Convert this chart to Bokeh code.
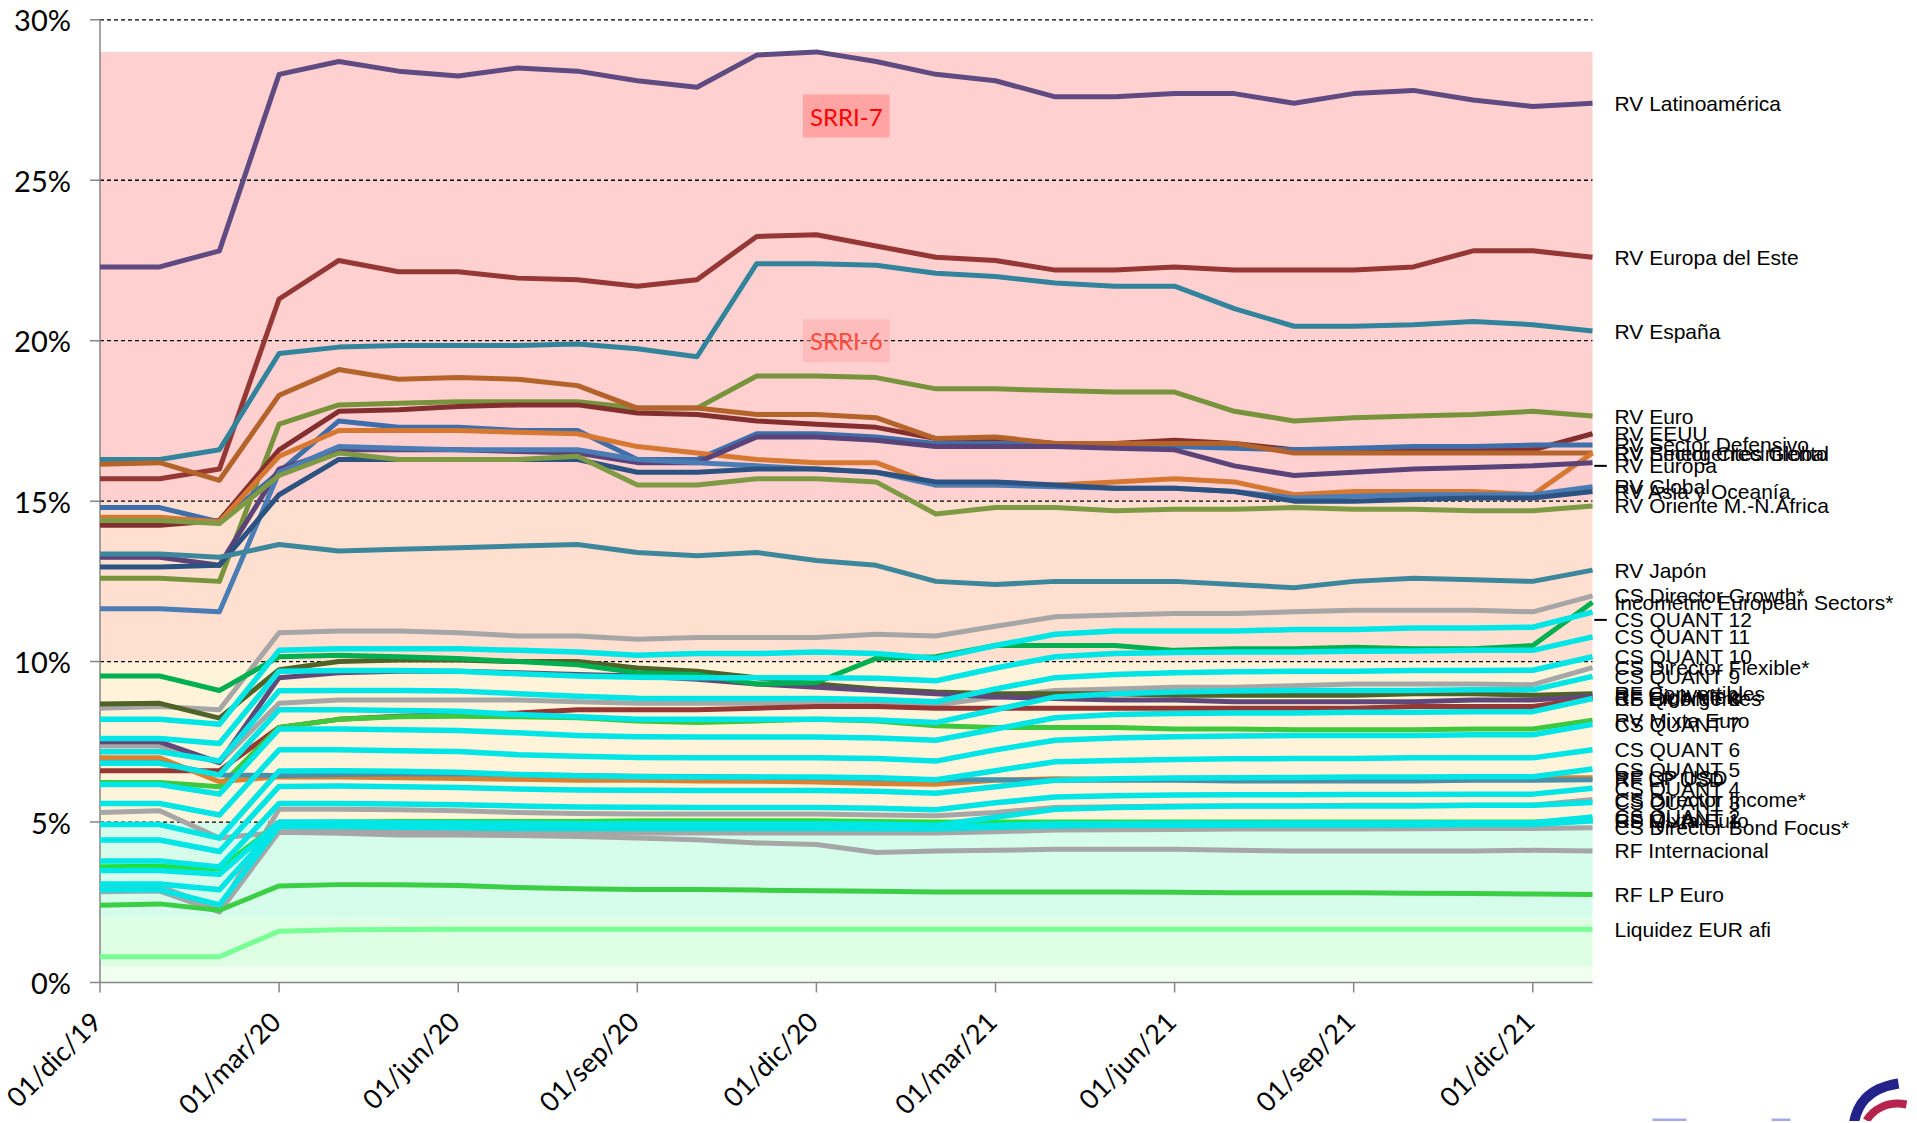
import math
from bokeh.plotting import figure
from bokeh.models import Range1d, Label
from bokeh.core.properties import value
from bokeh.embed import file_html
from bokeh.resources import INLINE

# ---------------- data ----------------
months = list(range(26))  # 01/dic/19 ... 01/ene/22, monthly
tick_positions = [0, 3, 6, 9, 12, 15, 18, 21, 24]
tick_labels = ["01/dic/19", "01/mar/20", "01/jun/20", "01/sep/20", "01/dic/20",
               "01/mar/21", "01/jun/21", "01/sep/21", "01/dic/21"]
y_ticks = [0, 5, 10, 15, 20, 25, 30]
y_tick_labels = ["0%", "5%", "10%", "15%", "20%", "25%", "30%"]

band_bottom = [0, 0.5, 2, 5, 10, 15, 25]
band_top = [0.5, 2, 5, 10, 15, 25, 29]
band_colors = ["#F0FFF0", "#DEFFE3", "#D6FCEB", "#FFF4D9", "#FFDFCF", "#FFD0D0", "#FFD0D0"]

rv_latam = [22.3,22.3,22.8,28.3,28.7,28.4,28.25,28.5,28.4,28.1,27.9,28.9,29.0,28.7,28.3,28.1,27.6,27.6,27.7,27.7,27.4,27.7,27.8,27.5,27.3,27.4]
rv_eur_este = [15.7,15.7,16.0,21.3,22.5,22.15,22.15,21.95,21.9,21.7,21.9,23.25,23.3,22.95,22.6,22.5,22.2,22.2,22.3,22.2,22.2,22.2,22.3,22.8,22.8,22.6]
rv_espana = [16.3,16.3,16.6,19.6,19.8,19.85,19.85,19.85,19.9,19.75,19.5,22.4,22.4,22.35,22.1,22.0,21.8,21.7,21.7,21.0,20.45,20.45,20.5,20.6,20.5,20.3]
rv_euro = [12.6,12.6,12.5,17.4,18.0,18.05,18.1,18.1,18.1,17.9,17.9,18.9,18.9,18.85,18.5,18.5,18.45,18.4,18.4,17.8,17.5,17.6,17.65,17.7,17.8,17.65]
rv_eeuu = [14.25,14.25,14.4,16.6,17.8,17.85,17.95,18.0,18.0,17.75,17.7,17.5,17.4,17.3,16.95,16.95,16.8,16.8,16.9,16.8,16.6,16.6,16.6,16.6,16.6,17.1]
rv_sec_def = [14.8,14.8,14.35,15.9,17.5,17.3,17.3,17.2,17.2,16.3,16.3,17.1,17.1,17.0,16.8,16.8,16.75,16.7,16.7,16.65,16.6,16.65,16.7,16.7,16.75,16.75]
rv_sec_crec = [16.15,16.2,15.65,18.3,19.1,18.8,18.85,18.8,18.6,17.9,17.9,17.7,17.7,17.6,16.95,17.0,16.8,16.8,16.8,16.8,16.5,16.5,16.5,16.5,16.5,16.5]
rv_emerg = [14.5,14.5,14.35,16.4,17.2,17.2,17.2,17.15,17.1,16.7,16.5,16.3,16.2,16.2,15.5,15.5,15.5,15.6,15.7,15.6,15.2,15.3,15.3,15.3,15.2,16.5]
rv_europa = [13.25,13.25,13.0,16.0,16.6,16.6,16.6,16.55,16.5,16.2,16.2,17.0,17.0,16.9,16.7,16.7,16.7,16.65,16.6,16.1,15.8,15.9,16.0,16.05,16.1,16.2]
rv_global = [11.65,11.65,11.55,15.9,16.7,16.65,16.6,16.6,16.6,16.3,16.2,16.1,16.0,15.9,15.5,15.5,15.45,15.4,15.4,15.3,15.1,15.15,15.2,15.2,15.2,15.45]
rv_asia = [12.95,12.95,13.0,15.2,16.3,16.3,16.3,16.3,16.3,15.9,15.9,16.0,16.0,15.9,15.6,15.6,15.5,15.4,15.4,15.3,15.0,15.0,15.05,15.1,15.1,15.3]
rv_oriente = [14.4,14.4,14.3,15.8,16.5,16.3,16.3,16.3,16.4,15.5,15.5,15.7,15.7,15.6,14.6,14.8,14.8,14.7,14.75,14.75,14.8,14.75,14.75,14.7,14.7,14.85]
rv_japon = [13.35,13.35,13.25,13.65,13.45,13.5,13.55,13.6,13.65,13.4,13.3,13.4,13.15,13.0,12.5,12.4,12.5,12.5,12.5,12.4,12.3,12.5,12.6,12.55,12.5,12.85]
cs_dir_growth = [8.55,8.6,8.5,10.9,10.95,10.95,10.9,10.8,10.8,10.7,10.75,10.75,10.75,10.85,10.8,11.1,11.4,11.45,11.5,11.5,11.55,11.6,11.6,11.6,11.55,12.05]
incometric = [9.55,9.55,9.1,10.15,10.2,10.15,10.1,10.0,9.9,9.65,9.6,9.3,9.35,10.1,10.15,10.5,10.5,10.5,10.35,10.4,10.4,10.45,10.4,10.4,10.5,11.85]
cs_dir_flex = [7.37,7.37,6.85,8.7,8.8,8.8,8.8,8.8,8.75,8.7,8.7,8.7,8.75,8.7,8.65,8.9,9.1,9.15,9.2,9.2,9.25,9.3,9.3,9.3,9.28,9.81]
rf_conv = [8.68,8.7,8.24,9.75,10.0,10.05,10.05,10.0,10.0,9.8,9.7,9.5,9.3,9.15,9.05,9.0,9.0,9.0,8.95,8.95,8.95,8.95,9.0,9.0,8.95,9.0]
rf_hy = [7.5,7.5,6.85,9.5,9.65,9.7,9.7,9.65,9.6,9.55,9.45,9.3,9.2,9.1,9.0,8.9,8.85,8.8,8.8,8.75,8.75,8.75,8.75,8.8,8.8,8.92]
rf_emerg = [6.6,6.6,6.6,7.95,8.2,8.3,8.35,8.4,8.5,8.5,8.5,8.55,8.6,8.6,8.55,8.55,8.55,8.55,8.55,8.55,8.55,8.55,8.6,8.6,8.6,8.85]
rv_mixta_eur = [6.23,6.23,6.1,7.95,8.2,8.28,8.3,8.28,8.25,8.15,8.1,8.15,8.2,8.15,8.0,7.95,7.95,7.95,7.9,7.9,7.88,7.88,7.88,7.9,7.9,8.17]
rf_cp_usd = [7.0,7.0,6.26,6.41,6.4,6.38,6.36,6.33,6.3,6.3,6.28,6.27,6.25,6.2,6.18,6.3,6.35,6.33,6.33,6.36,6.38,6.36,6.35,6.35,6.38,6.38]
rf_lp_usd = [6.85,6.85,6.47,6.45,6.48,6.5,6.5,6.48,6.45,6.43,6.42,6.4,6.38,6.35,6.32,6.32,6.3,6.3,6.3,6.28,6.28,6.28,6.28,6.3,6.3,6.32]
cs_dir_income = [3.0,3.0,2.3,5.4,5.4,5.38,5.35,5.3,5.27,5.25,5.25,5.25,5.25,5.22,5.2,5.3,5.45,5.48,5.5,5.5,5.5,5.52,5.52,5.52,5.52,5.7]
rf_mixta_eur = [3.61,3.62,3.54,4.98,5.0,5.02,5.02,5.02,5.02,5.04,5.04,5.04,5.04,5.02,5.0,5.0,5.0,5.0,5.0,5.0,5.0,5.0,5.0,5.0,5.0,5.04]
cs_dir_bond = [2.83,2.85,2.2,4.7,4.72,4.72,4.72,4.7,4.68,4.66,4.66,4.66,4.66,4.66,4.66,4.7,4.75,4.76,4.77,4.78,4.78,4.78,4.79,4.8,4.8,4.82]
rf_internacional = [5.3,5.35,4.5,4.68,4.65,4.6,4.6,4.58,4.55,4.5,4.45,4.35,4.3,4.05,4.1,4.12,4.15,4.15,4.15,4.12,4.1,4.1,4.1,4.1,4.12,4.1]
rf_lp_eur = [2.41,2.45,2.25,3.01,3.05,3.05,3.02,2.96,2.92,2.9,2.9,2.88,2.86,2.84,2.82,2.82,2.82,2.82,2.81,2.8,2.8,2.8,2.78,2.77,2.76,2.74]
liquidez = [0.8,0.8,0.8,1.6,1.64,1.65,1.66,1.66,1.66,1.66,1.66,1.66,1.66,1.66,1.66,1.66,1.66,1.66,1.66,1.66,1.66,1.66,1.66,1.66,1.66,1.66]
cs_quant_12 = [8.2,8.2,8.05,10.35,10.4,10.4,10.4,10.35,10.3,10.2,10.25,10.25,10.3,10.25,10.1,10.5,10.85,10.95,10.95,10.95,11.0,11.0,11.05,11.05,11.07,11.54]
cs_quant_11 = [7.6,7.6,7.45,9.7,9.72,9.72,9.7,9.62,9.55,9.51,9.5,9.5,9.5,9.48,9.4,9.8,10.15,10.25,10.28,10.3,10.3,10.32,10.33,10.35,10.35,10.77]
cs_quant_10 = [7.19,7.19,6.9,9.09,9.1,9.1,9.08,9.0,8.92,8.86,8.85,8.85,8.85,8.82,8.75,9.15,9.5,9.6,9.65,9.68,9.7,9.7,9.72,9.72,9.73,10.15]
cs_quant_9 = [6.83,6.83,6.47,8.5,8.5,8.48,8.45,8.35,8.28,8.2,8.2,8.2,8.2,8.18,8.1,8.5,8.9,9.0,9.05,9.08,9.1,9.1,9.1,9.12,9.12,9.54]
cs_quant_8 = [6.17,6.17,5.87,7.9,7.9,7.88,7.85,7.78,7.7,7.66,7.65,7.65,7.65,7.62,7.55,7.9,8.25,8.35,8.38,8.4,8.4,8.42,8.42,8.44,8.44,8.85]
cs_quant_7 = [5.58,5.58,5.22,7.25,7.25,7.22,7.2,7.1,7.05,7.01,7.0,7.0,7.0,6.98,6.9,7.25,7.55,7.62,7.66,7.68,7.7,7.7,7.7,7.72,7.72,8.05]
cs_quant_6 = [4.92,4.92,4.5,6.59,6.6,6.58,6.55,6.48,6.44,6.41,6.4,6.4,6.4,6.38,6.32,6.6,6.88,6.92,6.95,6.97,6.98,6.98,7.0,7.0,7.0,7.25]
cs_quant_5 = [4.44,4.44,4.08,6.11,6.12,6.1,6.08,6.03,6.0,5.99,5.98,5.98,5.98,5.96,5.9,6.1,6.3,6.35,6.37,6.38,6.39,6.4,6.4,6.41,6.41,6.65]
cs_quant_4 = [3.79,3.79,3.6,5.58,5.58,5.56,5.54,5.5,5.47,5.46,5.45,5.45,5.45,5.43,5.38,5.6,5.78,5.82,5.84,5.85,5.85,5.86,5.86,5.87,5.87,6.05]
cs_quant_3 = [3.49,3.49,3.37,5.0,5.0,4.98,4.97,4.96,4.95,4.95,4.95,4.95,4.95,4.94,4.9,5.15,5.4,5.45,5.48,5.5,5.5,5.5,5.5,5.52,5.52,5.61]
cs_quant_2 = [3.07,3.07,2.89,4.95,4.95,4.93,4.9,4.88,4.86,4.85,4.85,4.85,4.85,4.84,4.82,4.9,4.95,4.95,4.96,4.96,4.97,4.97,4.97,4.98,4.98,5.16]
cs_quant_1 = [2.89,2.89,2.42,4.86,4.86,4.84,4.82,4.8,4.8,4.8,4.8,4.8,4.8,4.79,4.78,4.84,4.88,4.9,4.9,4.9,4.91,4.91,4.91,4.92,4.92,5.04]

GRAY = "#A6A6A6"
CYAN = "#00E5E5"
series = [
    ("RV Latinoamérica", rv_latam, "#5F4B82"),
    ("RV Europa del Este", rv_eur_este, "#953735"),
    ("RV España", rv_espana, "#31849B"),
    ("RV Euro", rv_euro, "#77933C"),
    ("RV EEUU", rv_eeuu, "#832F2F"),
    ("RV Sector Defensivo", rv_sec_def, "#3F6FAA"),
    ("RV Sector Crecimiento", rv_sec_crec, "#B4642A"),
    ("RV Emergentes Global", rv_emerg, "#D77832"),
    ("RV Europa", rv_europa, "#5A4378"),
    ("RV Global", rv_global, "#4A7DB5"),
    ("RV Asia y Oceanía", rv_asia, "#2C5282"),
    ("RV Oriente M.-N.África", rv_oriente, "#7F9A45"),
    ("RV Japón", rv_japon, "#3C879B"),
    ("CS Director Growth*", cs_dir_growth, GRAY),
    ("CS Director Flexible*", cs_dir_flex, GRAY),
    ("CS Director Income*", cs_dir_income, GRAY),
    ("CS Director Bond Focus*", cs_dir_bond, GRAY),
    ("RF Internacional", rf_internacional, GRAY),
    ("RF Convertibles", rf_conv, "#4F6228"),
    ("RF High Yield", rf_hy, "#60497A"),
    ("RF Emergentes", rf_emerg, "#953735"),
    ("RV Mixta Euro", rv_mixta_eur, "#3DC83D"),
    ("RF CP USD", rf_cp_usd, "#D98233"),
    ("RF LP USD", rf_lp_usd, "#4A8FA8"),
    ("RF Mixta Euro", rf_mixta_eur, "#22E03C"),
    ("RF LP Euro", rf_lp_eur, "#3CCF45"),
    ("Liquidez EUR afi", liquidez, "#78FF96"),
    ("Incometric European Sectors*", incometric, "#00B050"),
    ("CS QUANT 12", cs_quant_12, CYAN),
    ("CS QUANT 11", cs_quant_11, CYAN),
    ("CS QUANT 10", cs_quant_10, CYAN),
    ("CS QUANT 9", cs_quant_9, CYAN),
    ("CS QUANT 8", cs_quant_8, CYAN),
    ("CS QUANT 7", cs_quant_7, CYAN),
    ("CS QUANT 6", cs_quant_6, CYAN),
    ("CS QUANT 5", cs_quant_5, CYAN),
    ("CS QUANT 4", cs_quant_4, CYAN),
    ("CS QUANT 3", cs_quant_3, CYAN),
    ("CS QUANT 2", cs_quant_2, CYAN),
    ("CS QUANT 1", cs_quant_1, CYAN),
]
label_shift = {"RV Europa": -0.1, "CS QUANT 12": -0.24}

# ---------------- layout (frame covers the whole canvas) ----------------
W, H = 1915, 1121
PX_X = 59.7      # pixels per month
PX_Y = 32.09     # pixels per percentage point
X0_PX, Y30_PX = 99.5, 19.3   # where x=0 and y=30 sit on the canvas
x_min = -X0_PX / PX_X
y_max = 30 + Y30_PX / PX_Y
p = figure(width=W, height=H,
           x_range=Range1d(x_min, x_min + W / PX_X),
           y_range=Range1d(y_max - H / PX_Y, y_max),
           x_axis_location=None, y_axis_location=None,
           output_backend="svg", toolbar_location=None,
           min_border=0, min_border_left=0, min_border_right=0,
           min_border_top=0, min_border_bottom=0)
p.outline_line_color = None
p.background_fill_color = "white"
p.border_fill_color = "white"
p.grid.visible = False


def px2x(px):
    return x_min + px / PX_X


def py2y(py):
    return y_max - py / PX_Y


x_end = months[-1]
AX = "#868686"
tick_dx = 10 / PX_X
tick_dy = 10 / PX_Y

# SRRI bands
p.quad(left=0, right=x_end, bottom=band_bottom, top=band_top, fill_color=band_colors,
       line_color=None, level="image")

# dashed horizontal gridlines
grid_y = y_ticks[1:]
p.segment(x0=[0] * len(grid_y), y0=grid_y, x1=[x_end] * len(grid_y), y1=grid_y,
          line_color="black", line_dash="4 3", line_width=1.3, level="underlay")

# y axis
p.segment(x0=[0], y0=[0], x1=[0], y1=[30], line_color=AX, line_width=1.5)
p.segment(x0=[-tick_dx] * len(y_ticks), y0=y_ticks, x1=[0] * len(y_ticks), y1=y_ticks,
          line_color=AX, line_width=1.5)
p.text(x=[0] * len(y_ticks), y=y_ticks, text=y_tick_labels, x_offset=-29,
       text_align="right", text_baseline="middle",
       text_font=value("Lato"), text_font_size="29px", text_color="black")

# x axis
p.segment(x0=[0], y0=[0], x1=[x_end], y1=[0], line_color=AX, line_width=1.5)
p.segment(x0=tick_positions, y0=[0] * len(tick_positions), x1=tick_positions,
          y1=[-tick_dy] * len(tick_positions), line_color=AX, line_width=1.5)
p.text(x=tick_positions, y=[0] * len(tick_positions), text=tick_labels, angle=math.pi / 4,
       text_align="right", text_baseline="middle", x_offset=-4, y_offset=34,
       text_font=value("Lato"), text_font_size="27px", text_color="black")

# series
for name, vals, col in series:
    p.line(months, vals, line_color=col, line_width=5.5 if col == CYAN else 5,
           line_join="round")

# end-of-line labels
names = [s[0] for s in series]
label_y = [s[1][-1] + label_shift.get(s[0], 0) for s in series]
p.text(x=[x_end] * len(series), y=label_y, text=names, x_offset=22,
       text_baseline="middle", text_align="left",
       text_font=value("Liberation Sans"), text_font_size="21px", text_color="black")

# leader lines for displaced labels
lead_y = [label_y[names.index(n)] for n in label_shift]
p.segment(x0=[x_end + 0.03] * len(lead_y), y0=lead_y, x1=[x_end + 0.24] * len(lead_y), y1=lead_y,
          line_color="black", line_width=2)

p.add_layout(Label(x=12.5, y=27.0, text="SRRI-7", text_align="center", text_baseline="middle",
                   text_color="#FF0000", text_font="Lato", text_font_size="24px",
                   background_fill_color="#FF8A8A", background_fill_alpha=0.65, padding=7))
p.add_layout(Label(x=12.5, y=20.0, text="SRRI-6", text_align="center", text_baseline="middle",
                   text_color="#FF4A3A", text_font="Lato", text_font_size="24px",
                   background_fill_color="#FFA8A8", background_fill_alpha=0.5, padding=7))

# partially visible logo in the bottom-right corner (decoration)
p.bezier(x0=[px2x(1898)], y0=[py2y(1083)], x1=[px2x(1853)], y1=[py2y(1125)],
         cx0=[px2x(1866)], cy0=[py2y(1088)], cx1=[px2x(1856)], cy1=[py2y(1105)],
         line_color="#22228A", line_width=10)
p.bezier(x0=[px2x(1906)], y0=[py2y(1104)], x1=[px2x(1866)], y1=[py2y(1120)],
         cx0=[px2x(1886)], cy0=[py2y(1100)], cx1=[px2x(1872)], cy1=[py2y(1110)],
         line_color="#B5244F", line_width=8)
p.quad(left=[px2x(1652), px2x(1771)], right=[px2x(1686), px2x(1790)],
       bottom=[py2y(1125)] * 2, top=[py2y(1118)] * 2, fill_color="#A8A8E6", line_color=None)

open("out.html", "w").write(file_html(p, INLINE))
